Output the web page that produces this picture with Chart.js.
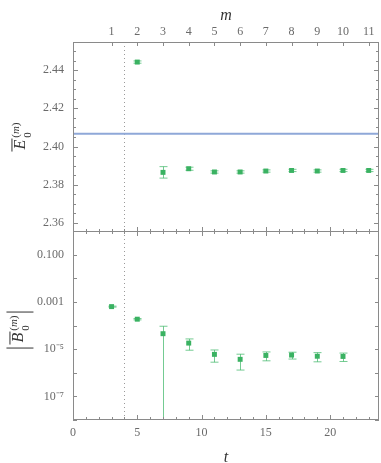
<!DOCTYPE html>
<html>
<head>
<meta charset="utf-8">
<script src="https://cdn.jsdelivr.net/npm/chart.js@4/dist/chart.umd.min.js"></script>
<style>
  html, body { margin:0; padding:0; background:#fff; }
  #wrap { position:relative; width:381px; height:463px; overflow:hidden; }
  canvas { position:absolute; left:0; }
  #cTop { top:0; }
  #cBot { top:231px; }
  .ylab { position:absolute; transform:translate(-50%,-50%) rotate(-90deg); white-space:nowrap;
          font-family:"Liberation Serif", serif; color:#333; font-size:16px; line-height:1; }
  .ov { display:inline-block; border-top:1px solid #333; font-style:italic; padding:0 1px 0 2px; line-height:1.05; }
  .scr { display:inline-flex; flex-direction:column; font-size:11px; vertical-align:middle; margin-left:1px; line-height:1.05; }
  .scr i { font-style:italic; }
  .abs { display:inline-block; border-left:1px solid #333; border-right:1px solid #333; padding:2px 3px; }
</style>
</head>
<body>
<div id="wrap">
  <canvas id="cTop" width="381" height="232"></canvas>
  <canvas id="cBot" width="381" height="232"></canvas>
  <div class="ylab" style="left:22px; top:137px;"><span class="ov">E</span><span class="scr"><span>(<i>m</i>)</span><span>0</span></span></div>
  <div class="ylab" style="left:20px; top:330px;"><span class="abs"><span class="ov">B</span><span class="scr"><span>(<i>m</i>)</span><span>0</span></span></span></div>
</div>
<script>
// ---------------- data ----------------
const tTop  = [5, 7, 9, 11, 13, 15, 17, 19, 21, 23];
const eVals = [2.4442, 2.3865, 2.3884, 2.3867, 2.3867, 2.3872, 2.3875, 2.3872, 2.3875, 2.3875];
const eErrs = [0.0006, 0.0030, 0.0008, 0.0006, 0.0006, 0.0006, 0.0006, 0.0006, 0.0006, 0.0006];
const eRef  = 2.4067;

const tBot  = [3, 5, 7, 9, 11, 13, 15, 17, 19, 21];
const bVals = [6.3e-4, 1.85e-4, 4.5e-5, 1.8e-5, 6.0e-6, 3.7e-6, 5.4e-6, 5.6e-6, 5.0e-6, 4.9e-6];
const bErrs = [3e-5, 1.2e-5, 4.8e-5, 0.9e-5, 3.2e-6, 2.4e-6, 2.2e-6, 1.8e-6, 2.1e-6, 1.9e-6];

const eTicks   = [2.36, 2.38, 2.40, 2.42, 2.44];
const mTicks   = [1, 2, 3, 4, 5, 6, 7, 8, 9, 10, 11];
const tTicks   = [0, 5, 10, 15, 20];
const bTicks   = [1e-1, 1e-3, 1e-5, 1e-7];
const bLabels  = ['0.100', '0.001', '10\u207B\u2075', '10\u207B\u2077'];
const cutT = 4;
const tMin = 0, tMax = 23.8;

// ---------------- style ----------------
const GREEN = 'rgb(58,178,98)';
const GREEN_ERR = 'rgba(70,185,110,0.75)';
const FRAME = '#8a8a8a';
const FONT = '"Liberation Serif", serif';
const tickFont = { family: FONT, size: 12 };
const tickColor = '#6a6a6a';

function range(a, b, s) { const r = []; for (let v = a; v <= b + 1e-9; v += s) r.push(+v.toFixed(6)); return r; }
function noPad(s) { s.paddingTop = 0; s.paddingBottom = 0; s.paddingLeft = 0; s.paddingRight = 0; }

function drawTicks(ctx, ca, scale, vals, len, side) {
  ctx.beginPath();
  vals.forEach(v => {
    const p = Math.round(scale.getPixelForValue(v)) + 0.5;
    if (side === 'left')   { ctx.moveTo(ca.left, p);   ctx.lineTo(ca.left + len, p); }
    if (side === 'right')  { ctx.moveTo(ca.right, p);  ctx.lineTo(ca.right - len, p); }
    if (side === 'top')    { ctx.moveTo(p, ca.top);    ctx.lineTo(p, ca.top + len); }
    if (side === 'bottom') { ctx.moveTo(p, ca.bottom); ctx.lineTo(p, ca.bottom - len); }
  });
  ctx.stroke();
}

const decor = {
  id: 'decor',
  beforeDatasetsDraw(chart, args, opts) {
    const { ctx, chartArea: ca } = chart;
    const xs = chart.scales.x;
    ctx.save();
    ctx.strokeStyle = '#9a9a9a'; ctx.lineWidth = 1; ctx.setLineDash([1, 3]);
    const px = Math.round(xs.getPixelForValue(cutT)) + 0.5;
    ctx.beginPath(); ctx.moveTo(px, ca.top); ctx.lineTo(px, ca.bottom); ctx.stroke();
    ctx.setLineDash([]);
    ctx.beginPath(); ctx.rect(ca.left, ca.top, ca.width, ca.height); ctx.clip();
    ctx.strokeStyle = GREEN_ERR; ctx.lineWidth = 1;
    const ys = chart.scales.y;
    opts.xs.forEach((t, i) => {
      const v = opts.vals[i], e = opts.errs[i];
      const x = Math.round(xs.getPixelForValue(t)) + 0.5;
      const yHi = ys.getPixelForValue(v + e);
      const lo = v - e;
      const yLo = lo > 0 ? ys.getPixelForValue(lo) : ca.bottom + 2;
      ctx.beginPath();
      ctx.moveTo(x, yHi); ctx.lineTo(x, yLo);
      ctx.moveTo(x - 4, yHi); ctx.lineTo(x + 4, yHi);
      if (lo > 0) { ctx.moveTo(x - 4, yLo); ctx.lineTo(x + 4, yLo); }
      ctx.stroke();
    });
    ctx.restore();
  },
  afterDraw(chart, args, opts) {
    const { ctx, chartArea: ca } = chart;
    ctx.save();
    ctx.strokeStyle = FRAME; ctx.lineWidth = 1;
    ctx.strokeRect(Math.round(ca.left) + 0.5, Math.round(ca.top) + 0.5, Math.round(ca.width) - 1, Math.round(ca.height) - 1);
    const xs = chart.scales.x, ys = chart.scales.y;
    const tMinor = range(0, 23, 1).filter(v => v % 5 !== 0);
    const tMajor = range(0, 20, 5);
    drawTicks(ctx, ca, xs, tMajor, 5, 'bottom');
    drawTicks(ctx, ca, xs, tMinor, 3, 'bottom');
    if (opts.top) {
      const ms = chart.scales.m;
      drawTicks(ctx, ca, ms, mTicks, 4, 'top');
      drawTicks(ctx, ca, ys, eTicks, 5, 'left');
      drawTicks(ctx, ca, ys, eTicks, 5, 'right');
      const minor = range(2.36, 2.45, 0.005).filter(v => !eTicks.some(m => Math.abs(m - v) < 1e-6));
      drawTicks(ctx, ca, ys, minor, 3, 'left');
      drawTicks(ctx, ca, ys, minor, 3, 'right');
    } else {
      drawTicks(ctx, ca, xs, tMajor, 5, 'top');
      drawTicks(ctx, ca, xs, tMinor, 3, 'top');
      const dec = [1e-8,1e-7,1e-6,1e-5,1e-4,1e-3,1e-2,1e-1];
      drawTicks(ctx, ca, ys, dec, 4, 'left');
      drawTicks(ctx, ca, ys, dec, 4, 'right');
    }
    ctx.restore();
  }
};

// ---------------- top panel ----------------
new Chart(document.getElementById('cTop'), {
  type: 'scatter',
  data: {
    datasets: [
      { type: 'line', data: [{ x: tMin, y: eRef }, { x: tMax, y: eRef }],
        borderColor: 'rgb(143,168,216)', borderWidth: 2, pointRadius: 0, order: 2 },
      { data: tTop.map((t, i) => ({ x: t, y: eVals[i] })),
        pointStyle: 'rect', pointRadius: 3.5, backgroundColor: GREEN, borderWidth: 0, order: 1 }
    ]
  },
  options: {
    responsive: false, animation: false, devicePixelRatio: 1,
    layout: { autoPadding: false, padding: { left: 0, right: 2, top: 0, bottom: 0 } },
    plugins: { legend: { display: false }, tooltip: { enabled: false },
      decor: { top: true, xs: tTop, vals: eVals, errs: eErrs } },
    scales: {
      x: { type: 'linear', position: 'bottom', min: tMin, max: tMax, display: false },
      y: { type: 'linear', position: 'left', min: 2.3553, max: 2.4547,
           afterBuildTicks(s) { s.ticks = eTicks.map(v => ({ value: v })); },
           afterFit(s) { s.width = 73; noPad(s); },
           grid: { display: false, drawTicks: false }, border: { display: false },
           ticks: { padding: 9, font: tickFont, color: tickColor, callback: v => v.toFixed(2) } },
      m: { type: 'linear', position: 'top', min: (tMin - 1) / 2, max: (tMax - 1) / 2,
           afterBuildTicks(s) { s.ticks = mTicks.map(v => ({ value: v })); },
           afterFit(s) { s.height = 42; noPad(s); },
           grid: { display: false, drawTicks: false }, border: { display: false },
           title: { display: true, text: 'm', color: '#333', padding: { top: 6, bottom: 0 },
                    font: { family: FONT, size: 16, style: 'italic' } },
           ticks: { padding: 3, font: tickFont, color: tickColor, callback: v => String(v) } }
    }
  },
  plugins: [decor]
});

// ---------------- bottom panel ----------------
new Chart(document.getElementById('cBot'), {
  type: 'scatter',
  data: {
    datasets: [
      { data: tBot.map((t, i) => ({ x: t, y: bVals[i] })),
        pointStyle: 'rect', pointRadius: 3.5, backgroundColor: GREEN, borderWidth: 0 }
    ]
  },
  options: {
    responsive: false, animation: false, devicePixelRatio: 1,
    layout: { autoPadding: false, padding: { left: 0, right: 2, top: 0, bottom: 0 } },
    plugins: { legend: { display: false }, tooltip: { enabled: false },
      decor: { top: false, xs: tBot, vals: bVals, errs: bErrs } },
    scales: {
      x: { type: 'linear', position: 'bottom', min: tMin, max: tMax,
           afterBuildTicks(s) { s.ticks = tTicks.map(v => ({ value: v })); },
           afterFit(s) { s.height = 43; noPad(s); },
           grid: { display: false, drawTicks: false }, border: { display: false },
           title: { display: true, text: 't', color: '#333', padding: { top: 0, bottom: -4 },
                    font: { family: FONT, size: 16, style: 'italic' } },
           ticks: { padding: 6, font: tickFont, color: tickColor, callback: v => String(v) } },
      y: { type: 'logarithmic', position: 'left', min: 1e-8, max: 1,
           afterBuildTicks(s) { s.ticks = bTicks.map(v => ({ value: v })); },
           afterFit(s) { s.width = 73; noPad(s); },
           grid: { display: false, drawTicks: false }, border: { display: false },
           ticks: { padding: 9, font: tickFont, color: tickColor,
                    callback: (v) => { const i = bTicks.findIndex(b => Math.abs(Math.log10(b) - Math.log10(v)) < 1e-6); return i >= 0 ? bLabels[i] : ''; } } }
    }
  },
  plugins: [decor]
});
</script>
</body>
</html>
